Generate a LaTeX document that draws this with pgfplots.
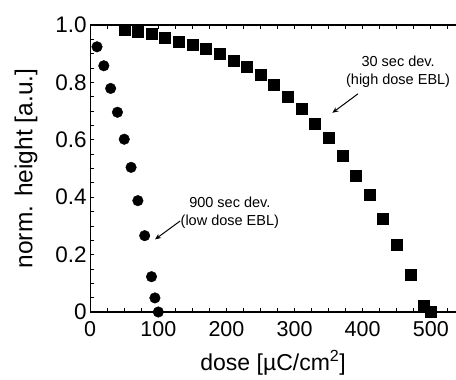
\documentclass[border=0pt]{standalone}
\usepackage{fontspec}
\setmainfont{Liberation Sans}
\usepackage{pgfplots}
\pgfplotsset{compat=1.18}
\usetikzlibrary{arrows.meta}
\begin{document}
\begin{tikzpicture}
\begin{axis}[
  name=ax,
  scale only axis, width=365.8bp, height=287bp,
  xmin=0, xmax=537, ymin=0, ymax=1,
  axis x line=box, axis y line=left,
  axis line style={-, line width=1.1bp, black},
  tick align=inside, major tick length=4bp, minor tick length=4bp,
  every tick/.style={line width=0.8bp, black},
  xtick={0,100,...,500}, minor xtick={25,50,...,525},
  ytick={0,0.2,0.4,0.6,0.8,1.0}, yticklabels={0,0.2,0.4,0.6,0.8,1.0},
  minor ytick={0.05,0.1,...,0.96},
  /pgf/number format/assume math mode=true,
  xticklabel style={font=\fontsize{21.5bp}{25bp}\selectfont, yshift=-6bp},
  yticklabel style={font=\fontsize{22.5bp}{26bp}\selectfont},
  xlabel={dose [µC/cm\textsuperscript{2}]},
  xlabel style={font=\fontsize{23bp}{27bp}\selectfont, at={(axis description cs:0.5,-0.178)}, anchor=center},
  ylabel={norm. height [a.u.]},
  ylabel style={font=\fontsize{24.5bp}{28bp}\selectfont, at={(axis description cs:-0.1755,0.5)}, anchor=center},
  clip=false,
]
\addplot[only marks, mark=square*, mark size=5.5bp, black] coordinates {
(50,0.985) (70,0.975) (90,0.970) (110,0.956) (130,0.943) (150,0.933)
(170,0.916) (190,0.901) (210,0.875) (230,0.855) (250,0.826) (270,0.793)
(290,0.749) (310,0.710) (330,0.657) (350,0.607) (370,0.544) (390,0.474)
(410,0.408) (430,0.324) (450,0.236) (470,0.131) (490,0.021) (500,0.001)
};
\addplot[only marks, mark=*, mark size=5.3bp, black] coordinates {
(10,0.924) (20,0.858) (30,0.779) (40,0.696) (50,0.602) (60,0.504)
(70,0.388) (80,0.266) (90,0.123) (95,0.049) (100,0.0)
};
\node[align=center, font=\fontsize{14.5bp}{18bp}\selectfont] at (axis cs:452,0.836) {30 sec dev.\\(high dose EBL)};
\draw[-{Stealth[length=6bp,width=5bp]}, line width=1bp] (axis cs:393,0.760) -- (axis cs:355.5,0.694);
\node[align=center, font=\fontsize{14.5bp}{18bp}\selectfont] at (axis cs:205,0.345) {900 sec dev.\\(low dose EBL)};
\draw[-{Stealth[length=6bp,width=5bp]}, line width=1bp] (axis cs:132,0.317) -- (axis cs:95.2,0.253);
\end{axis}
\pgfresetboundingbox
\path ([shift={(-90.2bp,-68bp)}]ax.south west) rectangle ([shift={(0bp,25bp)}]ax.north east);
\end{tikzpicture}
\end{document}
